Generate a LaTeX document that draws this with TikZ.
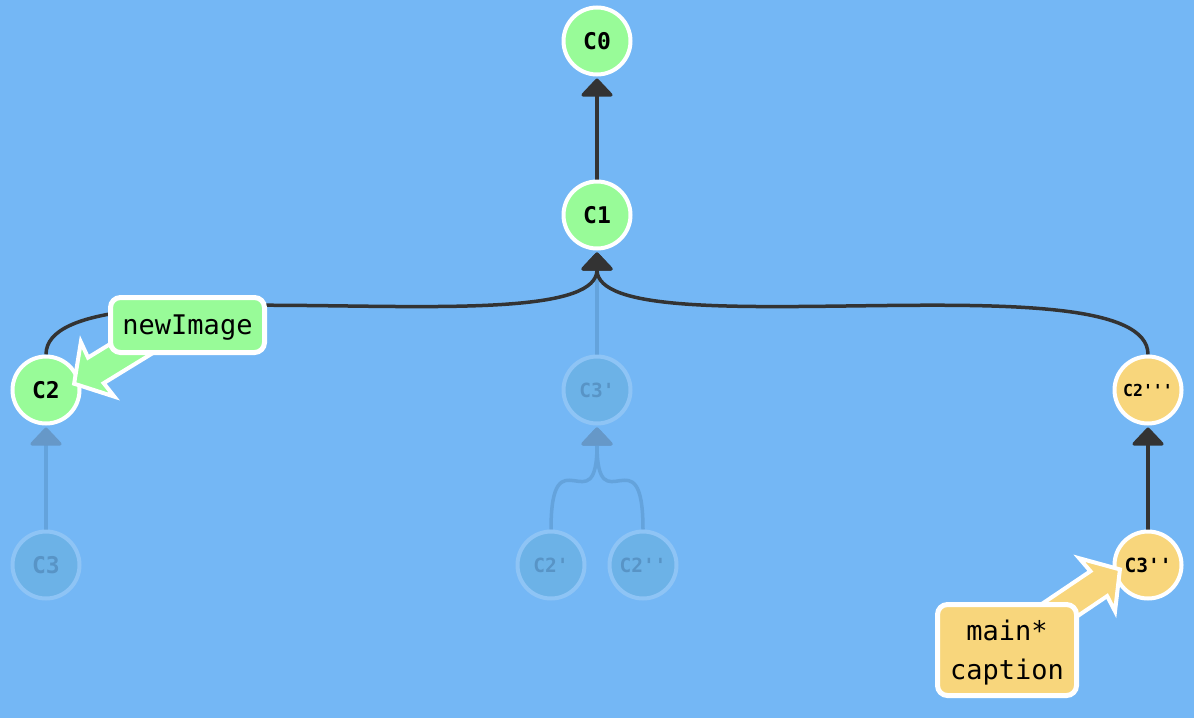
\documentclass[tikz,border=0pt]{standalone}
\usepackage{fontspec}
\setmonofont{DejaVu Sans Mono}
\usetikzlibrary{arrows.meta}
\pgfdeclarelayer{bglayer}
\pgfdeclarelayer{edgelayer}
\pgfsetlayers{bglayer,edgelayer,main}
\definecolor{bgcol}{RGB}{116,183,245}
\definecolor{edgecol}{RGB}{51,51,51}
\definecolor{cgreen}{RGB}{152,251,152}
\definecolor{cyellow}{RGB}{248,214,124}
\definecolor{fadefill}{RGB}{108,178,231}
\definecolor{fadedraw}{RGB}{142,196,245}
\definecolor{fadetext}{RGB}{88,148,198}
\definecolor{fadeedge}{RGB}{100,163,220}
\definecolor{fadehead}{RGB}{102,152,200}
\begin{document}
\begin{tikzpicture}[x=1pt,y=-1pt,
  commit/.style={circle,minimum size=67pt,inner sep=0pt,line width=4pt,draw=white,
    font=\ttfamily\bfseries\fontsize{23}{23}\selectfont},
  smalltext/.style={font=\ttfamily\bfseries\fontsize{19.5}{19.5}\selectfont},
  tinytext/.style={font=\ttfamily\bfseries\fontsize{16.5}{16.5}\selectfont},
  greencommit/.style={commit,fill=cgreen},
  yellowcommit/.style={commit,fill=cyellow},
  fadedcommit/.style={commit,fill=fadefill,draw=fadedraw,text=fadetext},
  parentedge/.style={draw=edgecol,line width=3.5pt,-{Triangle[width=35pt,length=19pt,round]}},
  fadededge/.style={draw=fadeedge,line width=3.5pt,-{Triangle[width=35pt,length=19pt,round,color=fadehead]}},
  callout/.style={draw=white,line width=4pt,line join=miter},
  branchlabel/.style={draw=white,line width=5pt,rounded corners=10pt,inner sep=0pt,
    font=\ttfamily\fontsize{27}{38}\selectfont}
]
\begin{pgfonlayer}{bglayer}
\fill[bgcol] (0,0) rectangle (1194,718);
\end{pgfonlayer}
\useasboundingbox (0,0) rectangle (1194,718);

% commits
\node[greencommit] (c0) at (597,41) {C0};
\node[greencommit] (c1) at (597,215) {C1};
\node[greencommit] (c2) at (46,390) {C2};
\node[fadedcommit] (c3) at (46,565) {C3};
\node[fadedcommit,smalltext] (c3p) at (597,390) {C3'};
\node[fadedcommit,smalltext] (c2p) at (551,565) {C2'};
\node[fadedcommit,smalltext] (c2pp) at (643,565) {C2''};
\node[yellowcommit,tinytext] (c2ppp) at (1148,390) {C2'''};
\node[yellowcommit,smalltext] (c3pp) at (1148,565) {C3''};

% arrow head points below parents
\coordinate (c0h) at ([yshift=-2pt]c0.south);
\coordinate (c1h) at ([yshift=-2pt]c1.south);
\coordinate (c2h) at ([yshift=-2pt]c2.south);
\coordinate (c3ph) at ([yshift=-2pt]c3p.south);
\coordinate (c2ppph) at ([yshift=-2pt]c2ppp.south);

\begin{pgfonlayer}{edgelayer}
\draw[fadededge] (c3.north) -- (c2h);
\draw[fadededge] (c2p.north) .. controls +(0,-100) and +(0,100) .. (c3ph);
\draw[fadededge] (c2pp.north) .. controls +(0,-100) and +(0,100) .. (c3ph);
\draw[fadededge] (c3p.north) -- (c1h);
\draw[parentedge] (c1.north) -- (c0h);
\draw[parentedge] (c2.north) .. controls +(0,-100) and +(0,100) .. (c1h);
\draw[parentedge] (c2ppp.north) .. controls +(0,-100) and +(0,100) .. (c1h);
\draw[parentedge] (c3pp.north) -- (c2ppph);
\end{pgfonlayer}

% callout arrows
\coordinate (gtip) at (72,385);
\coordinate (ytip) at (1122,568);
\begin{scope}[shift={(gtip)},rotate=31.5]
\draw[callout,fill=cgreen] (2.5,0) -- (30,32) -- (28,15) -- (115,15) -- (115,-15) -- (28,-15) -- (30,-32) -- cycle;
\end{scope}
\begin{scope}[shift={(ytip)},rotate=214]
\draw[callout,fill=cyellow] (2.5,0) -- (30,32) -- (28,15) -- (115,15) -- (115,-15) -- (28,-15) -- (30,-32) -- cycle;
\end{scope}

% branch labels
\node[branchlabel,fill=cgreen,minimum width=154pt,minimum height=55pt,text depth=0pt] (lblnew) at (187.5,325) {newImage};
\node[branchlabel,fill=cyellow,minimum width=139pt,minimum height=91pt,align=center] (lblmain) at (1007,650) {\rule{0pt}{26pt}main*\\[1pt]caption};
\end{tikzpicture}
\end{document}
